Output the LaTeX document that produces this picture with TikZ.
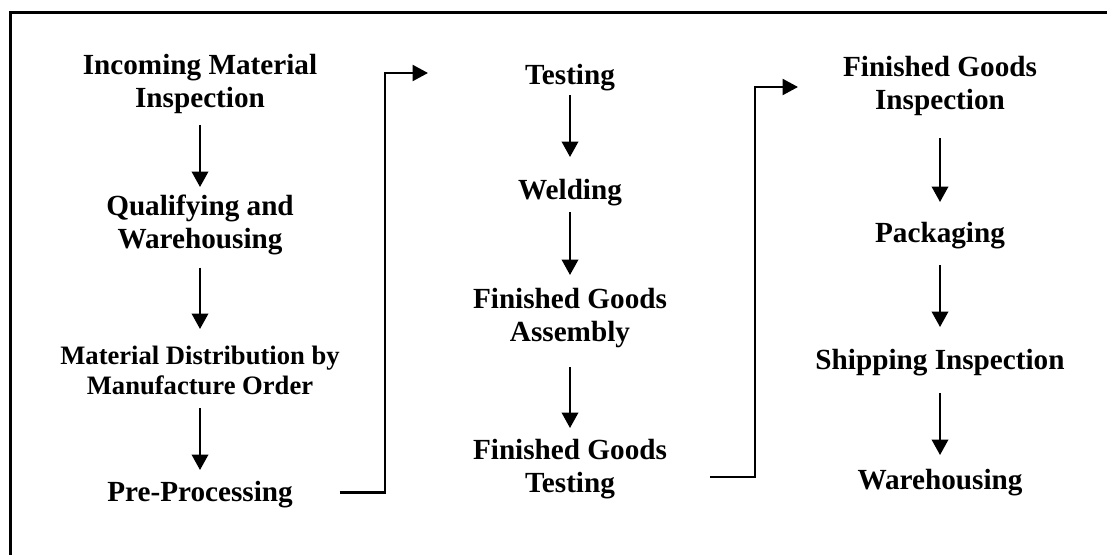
\documentclass[tikz,border=0pt]{standalone}
\usepackage{fontspec}
\setmainfont{Liberation Serif}
\usetikzlibrary{arrows.meta}
\begin{document}
\begin{tikzpicture}[x=1pt,y=-1pt,
  lbl/.style={inner sep=0pt, outer sep=0pt, align=center, anchor=north,
    font=\fontsize{29.2}{33}\selectfont\bfseries},
  lblsmall/.style={lbl, font=\fontsize{26.6}{30}\selectfont\bfseries},
  arr/.style={line width=2.2pt, -{Triangle[width=16.5pt,length=15.5pt]}},
  elbow/.style={line width=2.4pt, -{Triangle[width=16pt,length=15.5pt]}}]
\useasboundingbox (0,0) rectangle (1107,554);
% frame (top and left edges visible)
\draw[line width=2.6pt] (1110,12.2) -- (10.2,12.2) -- (10.2,557);

% column 1
\node[lbl] (n1) at (200,54.5) {Incoming Material\\Inspection};
\node[lbl] (n2) at (200,194.5) {Qualifying and\\Warehousing};
\node[lblsmall] (n3) at (200,346.5) {Material Distribution by\\Manufacture Order};
\node[lbl] (n4) at (200,481) {Pre-Processing};

% column 2
\node[lbl] (n5) at (570,64.5) {Testing};
\node[lbl] (n6) at (570,179.5) {Welding};
\node[lbl] (n7) at (570,288.5) {Finished Goods\\Assembly};
\node[lbl] (n8) at (570,439.5) {Finished Goods\\Testing};

% column 3
\node[lbl] (n9) at (940,56.5) {Finished Goods\\Inspection};
\node[lbl] (n10) at (940,222.5) {Packaging};
\node[lbl] (n11) at (940,349.5) {Shipping Inspection};
\node[lbl] (n12) at (940,469.5) {Warehousing};

% vertical arrows
\draw[arr, shorten <=11pt, shorten >=7.5pt] (n1.south) -- (n2.north);
\draw[arr, shorten <=13pt, shorten >=17.5pt] (n2.south) -- (n3.north);
\draw[arr, shorten <=13pt, shorten >=11pt] (n3.south) -- (n4.north);

\draw[arr, shorten <=4pt, shorten >=22.5pt] (n5.south) -- (n6.north);
\draw[arr, shorten <=6pt, shorten >=13.5pt] (n6.south) -- (n7.north);
\draw[arr, shorten <=19pt, shorten >=11.5pt] (n7.south) -- (n8.north);

\draw[arr, shorten <=22pt, shorten >=20.5pt] (n9.south) -- (n10.north);
\draw[arr, shorten <=16pt, shorten >=22.5pt] (n10.south) -- (n11.north);
\draw[arr, shorten <=17pt, shorten >=14.5pt] (n11.south) -- (n12.north);

% elbow connectors
\coordinate (t1) at (428,73);
\coordinate (t2) at (798,87);
\draw[elbow, shorten <=47pt] ([yshift=2pt]n4.east) -- ++(92,0) |- (t1);
\draw[elbow, shorten <=43pt] ([yshift=-7.8pt]n8.east) -- ++(88,0) |- (t2);
\end{tikzpicture}
\end{document}
